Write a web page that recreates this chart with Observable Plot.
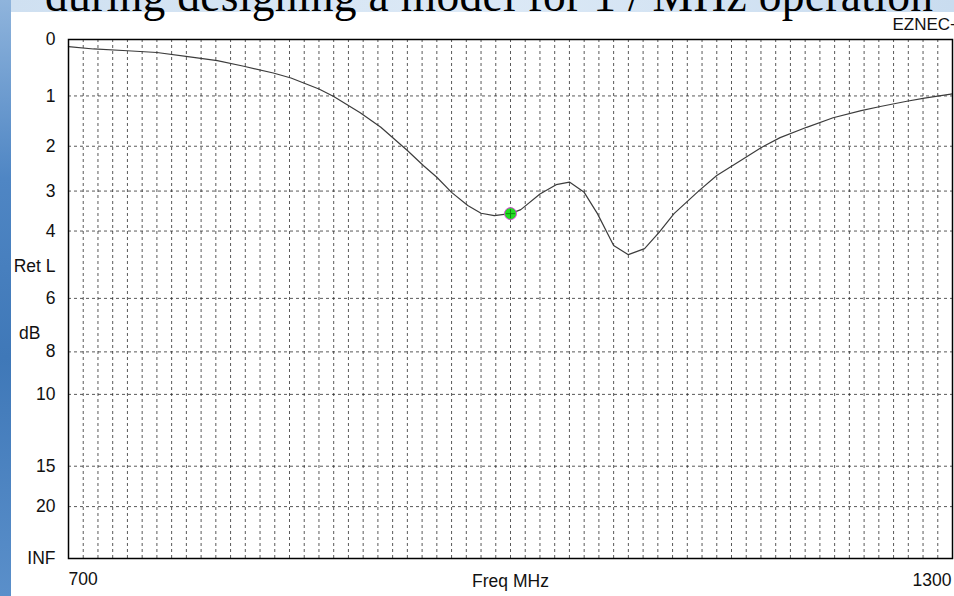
<!DOCTYPE html>
<html>
<head>
<meta charset="utf-8">
<script src="https://cdn.jsdelivr.net/npm/d3@7"></script>
<script src="https://cdn.jsdelivr.net/npm/@observablehq/plot@0.6"></script>
<style>
  html, body { margin: 0; padding: 0; background: #fff; }
  #wrap { position: relative; width: 954px; height: 596px; overflow: hidden; background: #fff; }
  #leftband { position: absolute; left: 0; top: 0; width: 11px; height: 596px;
    background: linear-gradient(180deg, #8fb4dc 0%, #4f86c4 30%, #3f78b8 60%, #5a8fca 100%); }
  #topband { position: absolute; left: 11px; top: 0; width: 943px; height: 12px;
    background: linear-gradient(90deg, #cfe0f1, #dce9f6 50%, #c9dcef); }
  #title { position: absolute; left: 45px; top: -31px; white-space: nowrap; letter-spacing: 0.3px;
    font-family: "Liberation Serif", "Times New Roman", serif; font-size: 45.5px; color: #000; }
  #chart { position: absolute; left: 0; top: 0; }
</style>
</head>
<body>
<div id="wrap">
  <div id="leftband"></div>
  <div id="topband"></div>
  <div id="title">during designing a model for 1 / MHz operation</div>
  <div id="chart"></div>
</div>
<script>
// Frequency (MHz) and return loss (dB)
const freqs   = [700, 717, 740, 760, 781, 801, 819, 839, 851, 870, 880, 898, 912, 930, 941, 950, 960, 971, 980, 989,
                 1000, 1007, 1020, 1031, 1040, 1050, 1059, 1070, 1080, 1091, 1101, 1111, 1128, 1140, 1156, 1170, 1183,
                 1201, 1219, 1238, 1251, 1269, 1281, 1300];
const retLoss = [0.12, 0.16, 0.19, 0.22, 0.29, 0.36, 0.46, 0.58, 0.67, 0.87, 1.01, 1.32, 1.61, 2.09, 2.42, 2.68, 3.03, 3.35, 3.54, 3.60,
                 3.55, 3.45, 3.07, 2.85, 2.79, 3.03, 3.55, 4.39, 4.65, 4.48, 4.03, 3.55, 2.99, 2.64, 2.31, 2.03, 1.82,
                 1.61, 1.42, 1.28, 1.20, 1.10, 1.04, 0.96];

// Marker (source frequency)
const markerFreq = [1000];
const markerDb = [3.55];

// Y axis tick values (dB) and labels
const yTickDb     = [0, 1, 2, 3, 4, 5, 6, 8, 10, 15, 20, Infinity];
const yTickLabels = ["0", "1", "2", "3", "4", "Ret L", "6", "8", "10", "15", "20", "INF"];
const yGridDb     = [1, 2, 3, 4, 6, 8, 10, 15, 20];

// X axis
const xDomain = [700, 1300];
const xTickValues = [700, 1300];
const xTickLabels = ["700", "1300"];
const xGridStep = 10;
const xGrid = d3.range(xDomain[0] + xGridStep, xDomain[1], xGridStep);

const xTitle = "Freq MHz";
const xTitleAt = 1000;
const yUnit = "dB";
const yUnitPos = 7.26;
const brand = "EZNEC+";

// EZNEC return-loss scale is linear in reflection coefficient magnitude
const gamma = db => Math.pow(10, -db / 20);

const curve = freqs.map((f, i) => ({f, g: gamma(retLoss[i])}));
const marker = markerFreq.map((f, i) => ({f, g: gamma(markerDb[i])}));

const FS = 17.5;

const chart = Plot.plot({
  width: 954,
  height: 596,
  marginLeft: 68,
  marginRight: 2,
  marginTop: 39,
  marginBottom: 38,
  x: {domain: xDomain, axis: null},
  y: {domain: [0, 1], axis: null},
  style: {background: "transparent", fontFamily: "'Liberation Sans', Arial, sans-serif", fontSize: "17.5px", color: "#111"},
  marks: [
    Plot.ruleX(xGrid, {x: d => d, stroke: "#222", strokeWidth: 1, strokeDasharray: "3,3", strokeOpacity: 0.75}),
    Plot.ruleY(yGridDb, {y: d => gamma(d), stroke: "#222", strokeWidth: 1, strokeDasharray: "3,3", strokeOpacity: 0.75}),
    Plot.line(curve, {x: "f", y: "g", stroke: "#3c3c3c", strokeWidth: 1.2}),
    Plot.dot(marker, {x: "f", y: "g", r: 6, fill: "#22dd22", stroke: "#dd44dd", strokeWidth: 1}),
    Plot.dot(marker, {x: "f", y: "g", r: 3, symbol: "plus", stroke: "#118811", strokeWidth: 1}),
    Plot.frame({stroke: "#000", strokeWidth: 1.5}),
    Plot.text(yTickDb, {x: xDomain[0], y: d => gamma(d), text: (d, i) => yTickLabels[i], textAnchor: "end", dx: -13, fontSize: FS}),
    Plot.text([yUnitPos], {x: xDomain[0], y: d => gamma(d), text: () => yUnit, textAnchor: "end", dx: -28, fontSize: FS}),
    Plot.text(xTickValues.slice(0, 1), {x: d => d, frameAnchor: "bottom", lineAnchor: "middle", dy: 21, text: () => xTickLabels[0], textAnchor: "start", dx: 0, fontSize: FS}),
    Plot.text(xTickValues.slice(1), {x: d => d, frameAnchor: "bottom", lineAnchor: "middle", dy: 22, text: () => xTickLabels[1], textAnchor: "end", dx: -1, fontSize: FS}),
    Plot.text([xTitleAt], {x: d => d, frameAnchor: "bottom", lineAnchor: "middle", dy: 23, text: () => xTitle, textAnchor: "middle", fontSize: FS}),
    Plot.text([brand], {frameAnchor: "top-right", lineAnchor: "middle", dy: -15, dx: -60, text: d => d, textAnchor: "start", fontSize: 17})
  ]
});
document.getElementById("chart").appendChild(chart);
</script>
</body>
</html>
